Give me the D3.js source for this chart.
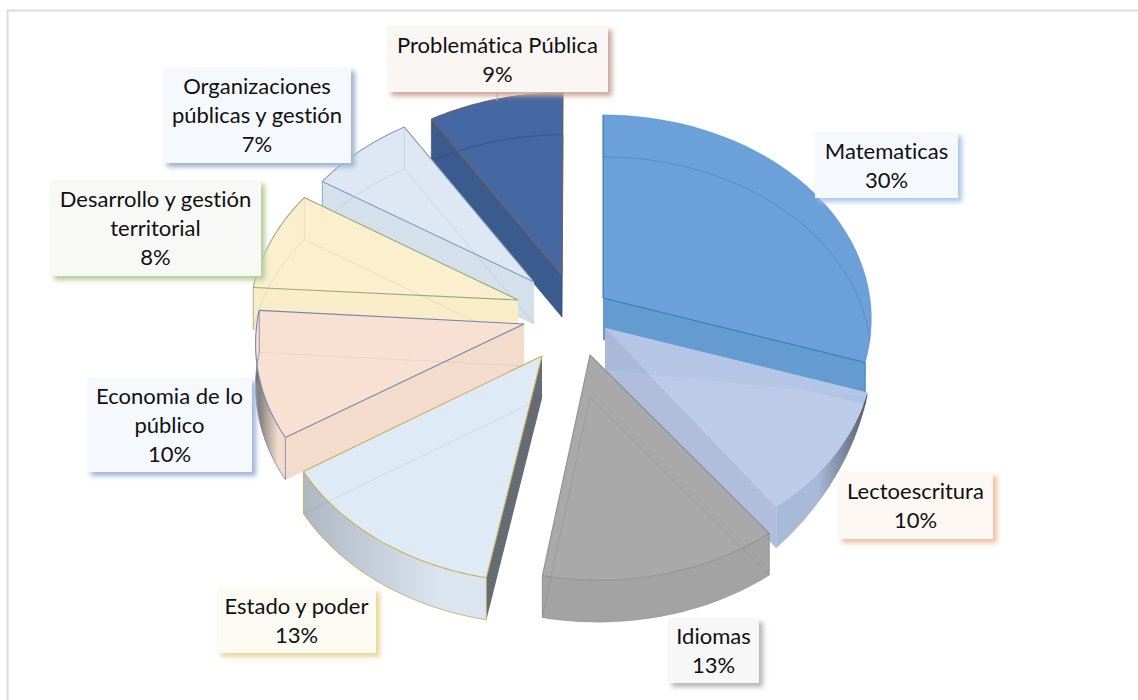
<!DOCTYPE html>
<html><head><meta charset="utf-8">
<style>html,body{margin:0;padding:0;background:#fff;overflow:hidden}svg{display:block}text{font-family:Lato,"Open Sans",sans-serif;font-size:22px;fill:#111;text-anchor:middle;font-variant-ligatures:none}</style>
<script src="https://cdn.jsdelivr.net/npm/d3@7/dist/d3.min.js"></script>
</head><body><div id="c"></div>
<script>
// ---- data ----
const categories = ["Matematicas","Lectoescritura","Idiomas","Estado y poder","Economia de lo público","Desarrollo y gestión territorial","Organizaciones públicas y gestión","Problemática Pública"];
const values = [30,10,13,13,10,8,7,9];
const labelLines = [["Matematicas"],["Lectoescritura"],["Idiomas"],["Estado y poder"],["Economia de lo","público"],["Desarrollo y gestión","territorial"],["Organizaciones","públicas y gestión"],["Problemática Pública"]];
// ---- styling / layout, separate from the data ----
const topFill  = ["#6ba1d8","#b6c7e6","#a9a9a9","#deeaf5","#f8e1d3","#fbefcd","#dde8f4","#4568a3"];
const wallFill = ["#649cd2","#a9b9d8","#a3a3a3","#dbe5f0","#f4dccd","#f8ecc9","#d4e0ec","#3b5a8e"];
const edge     = ["#2f72ad","#b6c7e6","#8f8f8f","#c9a94a","#6f7fae","#93a678","#7f97ba","#7a5f60"];
const arcEdgeOp= [0.2,0,0.9,0.9,0.9,0.9,0.9,0.9];
const arcDark  = ["#649cd2","#565e6e","#a3a3a3","#aeb7c2","#6d6a6a","#f8ecc9","#d4e0ec","#3b5a8e"];
const sideDark = ["#649cd2","#a9b9d8","#a3a3a3","#656c74","#f4dccd","#f8ecc9","#d4e0ec","#3b5a8e"];
const ghostCol = ["#2f72ad","#000","#000","#000","#000","#000","#000","#2c4d85"];
const ghostOp  = [0.4,0,0.09,0.07,0.06,0.08,0.08,0.7];
const boxFill  = ["#f5f9fd","#fdf8f4","#f7f7f7","#fbfaf3","#f5f8fc","#f8f9f6","#f5f8fc","#f9f6f4"];
const shadow   = ["#a9c8e8","#eebfa0","#b5b5b5","#e8d79a","#9fb3d8","#b5cc9c","#9fb3cc","#c9a99a"];
const apexDx   = [39,41,34,-22,-40,-46,-28,-1];
const apexDy   = [-17,13,40,42,8,-15,-31,-39];
const apexLocalX=[0,0,-8,0,0,0,-2,-1];
const apexLocalY=[0,0,0,-1,1,0,-2,-1];
const wallTaper= [1,0.1,1,1,1,1,1,1];
const boxes = [[815,132,143,66],[838,472,155,67],[668,618,91,65],[217,588,159,65],[87,378,165,94],[50,180,211,96],[163,67,188,96],[387,26,221,66]];

const W=1138,H=700,cx=564,cy=315,depth=42,persp=0.103;
const sx=d3.scaleLinear().domain([-1,1]).range([-267,267]);
const sy=d3.scaleLinear().domain([-1,1]).range([-202,202]);
const svg=d3.select("#c").append("svg").attr("width",W).attr("height",H);
const defs=svg.append("defs");
defs.append("filter").attr("id","blur").attr("x","-20%").attr("y","-20%").attr("width","140%").attr("height","140%")
  .append("feGaussianBlur").attr("stdDeviation",2.4);

const line=d3.line();
svg.append("path").attr("d",line([[7.5,700],[7.5,10.5],[1138,10.5]])).attr("fill","none").attr("stroke","#dcdcdc").attr("stroke-width",2);

const arcs=d3.pie().value(d=>d).sort(null)(values).map((a,i)=>({...a,i,mid:(a.startAngle+a.endAngle)/2}));
function proj(theta){const z=-Math.cos(theta),s=1/(1-persp*z);return [sx(Math.sin(theta))*s,sy(-Math.cos(theta))*s];}
const N=40;
function arcPts(a){return d3.range(N+1).map(k=>proj(a.startAngle+(a.endAngle-a.startAngle)*k/N));}
const shift=(pts,dy)=>pts.map(p=>[p[0],p[1]+dy]);

arcs.forEach(a=>{
  const g=defs.append("linearGradient").attr("id","ag"+a.i);
  const pts=arcPts(a);
  const leftDark=a.i===3||a.i===4;
  g.attr("gradientUnits","userSpaceOnUse").attr("x1",d3.min(pts,p=>p[0])).attr("x2",d3.max(pts,p=>p[0])).attr("y1",0).attr("y2",0);
  g.append("stop").attr("offset",leftDark?"0":"0.45").attr("stop-color",leftDark?arcDark[a.i]:wallFill[a.i]);
  g.append("stop").attr("offset",leftDark?"0.75":"1").attr("stop-color",leftDark?wallFill[a.i]:arcDark[a.i]);
});

const order=arcs.slice().sort((p,q)=>(-Math.cos(p.mid))-(-Math.cos(q.mid)));
const plot=svg.append("g").attr("transform",`translate(${cx},${cy})`);
order.forEach(a=>{
  const i=a.i;
  const g=plot.append("g").attr("transform",`translate(${apexDx[i]},${apexDy[i]})`);
  const pts=arcPts(a), O=[apexLocalX[i],apexLocalY[i]];
  const first=pts[0], last=pts[N];
  const wallOp=i===1?0.92:1;
  const poly=(p,fill,op)=>g.append("path").attr("d",line(p)+"Z").attr("fill",fill).attr("fill-opacity",op).attr("stroke","none");
  const lower=pts.map((p,k)=>[p[0],p[1]+depth*(wallTaper[i]+(1-wallTaper[i])*k/N)]);
  const radial=(corner,d,fill)=>poly([O,corner,[corner[0],corner[1]+d],[O[0],O[1]+depth]],fill,wallOp);
  const walls=[()=>radial(first,lower[0][1]-first[1],sideDark[i]),()=>radial(last,depth,wallFill[i])];
  if(first[1]>last[1]) walls.reverse();
  walls.forEach(f=>f());
  if(i!==0) poly(pts.concat(lower.slice().reverse()),`url(#ag${i})`,1);
  // top face
  const topD=line([O,...pts])+"Z";
  g.append("path").attr("d",topD).attr("fill",topFill[i]).attr("fill-opacity",i===1?0.92:1);
  // bottom face seen through the top
  const ghost=g.append("path").attr("d",line([[O[0],O[1]+depth],...shift(pts,depth)])+"Z").attr("fill","none").attr("stroke",ghostCol[i]).attr("stroke-opacity",ghostOp[i]).attr("stroke-width",1);
  if(i===0){
    defs.append("clipPath").attr("id","topClip0").append("path").attr("d",topD);
    ghost.attr("clip-path","url(#topClip0)");
  }
  // outlines
  g.append("path").attr("d",line(pts)).attr("fill","none").attr("stroke",edge[i]).attr("stroke-opacity",arcEdgeOp[i]).attr("stroke-width",1.1);
  g.append("path").attr("d",line([first,O,last])).attr("fill","none").attr("stroke",edge[i]).attr("stroke-width",i===0?1:1.1).attr("stroke-linejoin","round").attr("stroke-opacity",i===1?0:0.95);
  if(i!==1){
    const strongFirst=first[1]>-170, strongLast=last[1]>-60;
    [[first,strongFirst],[last,strongLast]].forEach(([p,st])=>g.append("path").attr("d",line([p,[p[0],p[1]+depth]])).attr("stroke",st?edge[i]:"#000").attr("stroke-opacity",st?0.8:0.08).attr("fill","none"));
    g.append("path").attr("d",line(lower)).attr("fill","none").attr("stroke",edge[i]).attr("stroke-opacity",(i===3||i===4)?0.7:0);
  }
});

svg.append("path").attr("d",line([[497,92],[497,101]])).attr("stroke","#a6a6a6").attr("fill","none");

const lab=svg.append("g").selectAll("g").data(arcs).join("g");
lab.append("rect").attr("x",a=>boxes[a.i][0]+4).attr("y",a=>boxes[a.i][1]+4).attr("width",a=>boxes[a.i][2]).attr("height",a=>boxes[a.i][3]).attr("fill",a=>shadow[a.i]).attr("filter","url(#blur)");
lab.append("rect").attr("x",a=>boxes[a.i][0]).attr("y",a=>boxes[a.i][1]).attr("width",a=>boxes[a.i][2]).attr("height",a=>boxes[a.i][3]).attr("fill",a=>boxFill[a.i]);
lab.each(function(a){
  const b=boxes[a.i],lines=[...labelLines[a.i],values[a.i]+"%"],lh=29,g=d3.select(this);
  const y0=b[1]+b[3]/2-(lines.length-1)*lh/2+8;
  lines.forEach((t,k)=>g.append("text").attr("x",b[0]+b[2]/2).attr("y",y0+k*lh).text(t));
});
</script></body></html>
